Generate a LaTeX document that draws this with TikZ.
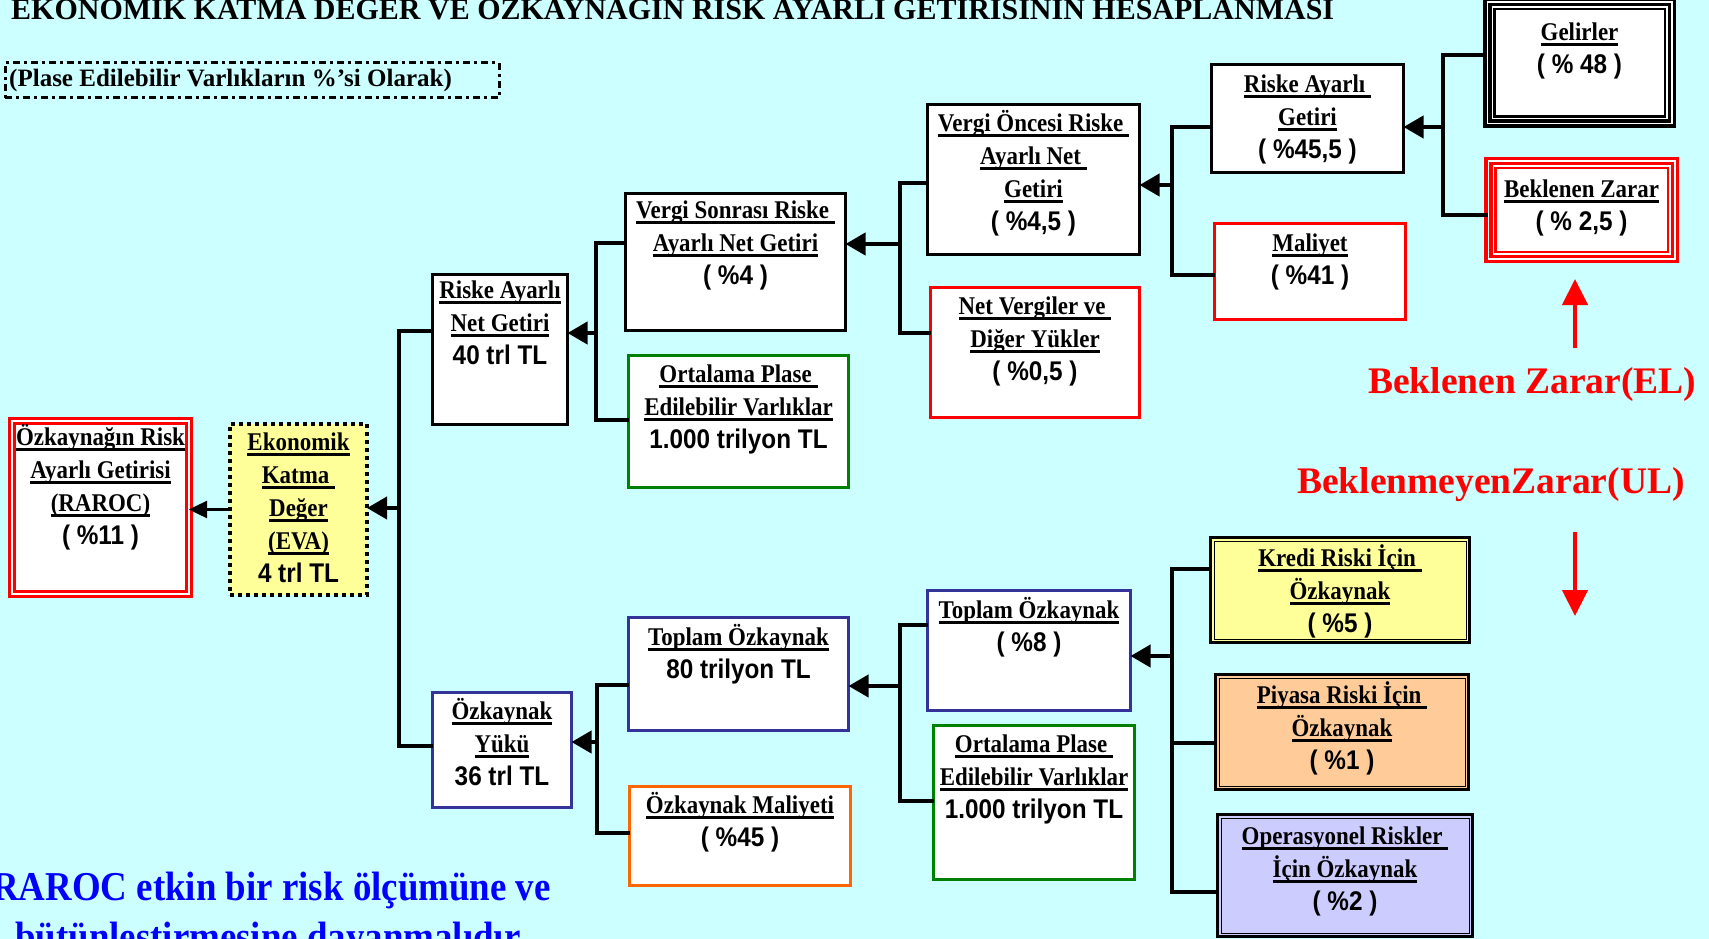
\documentclass[tikz,border=0pt]{standalone}
\usepackage{fontspec}
\setmainfont{Liberation Serif}
\newfontfamily\sercond{Liberation Serif}[FakeStretch=0.9]
\newfontfamily\sanscond{Liberation Sans}[FakeStretch=0.9]
\usetikzlibrary{arrows.meta}
\definecolor{bgc}{HTML}{CCFFFF}
\definecolor{bxred}{HTML}{FF0000}
\definecolor{bxgreen}{HTML}{008000}
\definecolor{bxblue}{HTML}{333399}
\definecolor{bxorange}{HTML}{FF6600}
\definecolor{fyel}{HTML}{FFFF99}
\definecolor{forange}{HTML}{FFCC99}
\definecolor{flav}{HTML}{CCCCFF}
\definecolor{txblue}{HTML}{0000FF}
\newsavebox\ulbox
\newcommand\myul[1]{\sbox\ulbox{#1}\rlap{\rule[-6pt]{\wd\ulbox}{3pt}}\usebox\ulbox}
\newcommand\fs{\rule{0pt}{23pt}}
\newcommand\numtxt[1]{{\sanscond\bfseries\fontsize{27}{33}\selectfont #1}}
\tikzset{
  bx/.style={draw=black, line width=3pt, fill=white, inner sep=0pt, outer sep=0pt, anchor=north west},
  tx/.style={anchor=north, inner sep=0pt, align=center, font=\sercond\bfseries\fontsize{25.5}{33}\selectfont},
  conn/.style={line width=4pt, black, line join=miter},
  arr/.style={line width=4pt, black, -{Triangle[length=20pt,width=22pt]}},
  arrs/.style={line width=2.5pt, black, -{Triangle[length=18pt,width=17pt]}},
  redarr/.style={line width=4.5pt, bxred, -{Triangle[length=26pt,width=25pt]}},
  innerline/.style={line width=1pt, black},
  bigtxt/.style={anchor=base west, inner sep=0pt},
}
\begin{document}
\begin{tikzpicture}[x=1pt, y=-1pt]
\useasboundingbox (0,0) rectangle (1709,939);
\clip (0,0) rectangle (1709,939);
\fill[bgc] (0,0) rectangle (1709,939);

% title and label
\node[bigtxt, font=\bfseries\fontsize{30}{36}\selectfont] (title) at (11,20)
  {EKONOMİK KATMA DEĞER VE ÖZKAYNAĞIN RİSK AYARLI GETİRİSİNİN HESAPLANMASI};
\node[draw=black, line width=3pt, dash pattern=on 7pt off 4pt on 3pt off 4pt,
  inner sep=0pt, minimum width=494pt, minimum height=35pt, anchor=north west] (plase) at (3.5,61.5) {};
\node[bigtxt, font=\bfseries\fontsize{25}{30}\selectfont] (plaset) at (9,87)
  {(Plase Edilebilir Varlıkların \%'si Olarak)};

% boxes
\node[bx, draw=bxred, double=white, double distance=2pt, minimum width=177pt, minimum height=173pt] (raroc) at (12,421) {};
\node[bx, fill=fyel, line width=4pt, dash pattern=on 4pt off 4pt, minimum width=137pt, minimum height=171pt] (eva) at (230,424) {};
\node[bx, minimum width=135pt, minimum height=150pt] (rang) at (432.5,274.5) {};
\node[bx, minimum width=220pt, minimum height=137pt] (vsrang) at (625.5,193.5) {};
\node[bx, draw=bxgreen, minimum width=220pt, minimum height=132pt] (opev1) at (628.5,355.5) {};
\node[bx, minimum width=212pt, minimum height=150pt] (vorang) at (927.5,104.5) {};
\node[bx, draw=bxred, minimum width=209pt, minimum height=130pt] (netverg) at (930.5,287.5) {};
\node[bx, minimum width=192pt, minimum height=108pt] (rag) at (1211.5,64.5) {};
\node[bx, draw=bxred, minimum width=191pt, minimum height=96pt] (maliyet) at (1214.5,223.5) {};
\node[bx, line width=3.5pt, double=white, double distance=1.5pt, minimum width=184.5pt, minimum height=121.5pt] (gelir) at (1487.25,2.25) {};
\draw[line width=2.5pt, black] ([shift={(7,7)}]gelir.north west) rectangle ([shift={(-7,-7)}]gelir.south east);
\node[bx, draw=bxred, line width=3.5pt, double=white, double distance=1.5pt, minimum width=186.5pt, minimum height=97.5pt] (bz) at (1488.25,161.25) {};
\draw[line width=2.5pt, bxred] ([shift={(7,7)}]bz.north west) rectangle ([shift={(-7,-7)}]bz.south east);
\node[bx, draw=bxblue, minimum width=139pt, minimum height=115pt] (ozyuk) at (432.5,692.5) {};
\node[bx, draw=bxblue, minimum width=220pt, minimum height=113pt] (top80) at (628.5,617.5) {};
\node[bx, draw=bxorange, minimum width=221pt, minimum height=99pt] (ozmal) at (629.5,786.5) {};
\node[bx, draw=bxblue, minimum width=203pt, minimum height=120pt] (top8) at (927.5,590.5) {};
\node[bx, draw=bxgreen, minimum width=201pt, minimum height=154pt] (opev2) at (933.5,725.5) {};
\node[bx, fill=fyel, minimum width=259pt, minimum height=105pt] (kredi) at (1210.5,537.5) {};
\draw[innerline] ([shift={(3.5,3.5)}]kredi.north west) rectangle ([shift={(-3.5,-3.5)}]kredi.south east);
\node[bx, fill=forange, minimum width=253pt, minimum height=115pt] (piyasa) at (1215.5,674.5) {};
\draw[innerline] ([shift={(3.5,3.5)}]piyasa.north west) rectangle ([shift={(-3.5,-3.5)}]piyasa.south east);
\node[bx, fill=flav, minimum width=255pt, minimum height=122pt] (oper) at (1217.5,814.5) {};
\draw[innerline] ([shift={(3.5,3.5)}]oper.north west) rectangle ([shift={(-3.5,-3.5)}]oper.south east);

% texts
\node[tx] (rarocT) at ([yshift=-1pt]raroc.north) {\fs\myul{Özkaynağın Risk}\\\myul{Ayarlı Getirisi}\\\myul{(RAROC)}\\\numtxt{( \%11 )}};
\node[tx] (evaT) at ([yshift=-3pt]eva.north) {\fs\myul{Ekonomik}\\\myul{Katma }\\\myul{Değer}\\\myul{(EVA)}\\\numtxt{4 trl TL}};
\node[tx] (rangT) at ([yshift=-0.5pt]rang.north) {\fs\myul{Riske Ayarlı}\\\myul{Net Getiri}\\\numtxt{40 trl TL}};
\node[tx] (vsrangT) at ([yshift=-1.5pt]vsrang.north) {\fs\myul{Vergi Sonrası Riske }\\\myul{Ayarlı Net Getiri}\\\numtxt{( \%4 )}};
\node[tx] (opev1T) at ([yshift=-3.5pt]opev1.north) {\fs\myul{Ortalama Plase }\\\myul{Edilebilir Varlıklar}\\\numtxt{1.000 trilyon TL}};
\node[tx] (vorangT) at ([yshift=-3.5pt]vorang.north) {\fs\myul{Vergi Öncesi Riske }\\\myul{Ayarlı Net }\\\myul{Getiri}\\\numtxt{( \%4,5 )}};
\node[tx] (netvergT) at ([yshift=-3.5pt]netverg.north) {\fs\myul{Net Vergiler ve }\\\myul{Diğer Yükler}\\\numtxt{( \%0,5 )}};
\node[tx] (ragT) at ([yshift=-4.5pt]rag.north) {\fs\myul{Riske Ayarlı }\\\myul{Getiri}\\\numtxt{( \%45,5 )}};
\node[tx] (maliyetT) at ([yshift=-4.5pt]maliyet.north) {\fs\myul{Maliyet}\\\numtxt{( \%41 )}};
\node[tx] (gelirT) at ([yshift=-14.75pt]gelir.north) {\fs\myul{Gelirler}\\\numtxt{( \% 48 )}};
\node[tx] (bzT) at ([yshift=-12.75pt]bz.north) {\fs\myul{Beklenen Zarar}\\\numtxt{( \% 2,5 )}};
\node[tx] (ozyukT) at ([yshift=-3.5pt]ozyuk.north) {\fs\myul{Özkaynak}\\\myul{Yükü}\\\numtxt{36 trl TL}};
\node[tx] (top80T) at ([yshift=-4.5pt]top80.north) {\fs\myul{Toplam Özkaynak}\\\numtxt{80 trilyon TL}};
\node[tx] (ozmalT) at ([yshift=-3.5pt]ozmal.north) {\fs\myul{Özkaynak Maliyeti}\\\numtxt{( \%45 )}};
\node[tx] (top8T) at ([yshift=-4.5pt]top8.north) {\fs\myul{Toplam Özkaynak}\\\numtxt{( \%8 )}};
\node[tx] (opev2T) at ([yshift=-3.5pt]opev2.north) {\fs\myul{Ortalama Plase }\\\myul{Edilebilir Varlıklar}\\\numtxt{1.000 trilyon TL}};
\node[tx] (krediT) at ([yshift=-5.5pt]kredi.north) {\fs\myul{Kredi Riski İçin }\\\myul{Özkaynak}\\\numtxt{( \%5 )}};
\node[tx] (piyasaT) at ([yshift=-5.5pt]piyasa.north) {\fs\myul{Piyasa Riski İçin }\\\myul{Özkaynak}\\\numtxt{( \%1 )}};
\node[tx] (operT) at ([yshift=-6.5pt]oper.north) {\fs\myul{Operasyonel Riskler }\\\myul{İçin Özkaynak}\\\numtxt{( \%2 )}};

% bracket coordinates
\coordinate (b1t) at (399,331); \coordinate (b1b) at (399,746); \coordinate (b1m) at (399,508);
\coordinate (b2t) at (596,243); \coordinate (b2b) at (596,420); \coordinate (b2m) at (596,333);
\coordinate (b3t) at (900,183); \coordinate (b3b) at (900,333); \coordinate (b3m) at (900,244);
\coordinate (b4t) at (1172,127); \coordinate (b4b) at (1172,275); \coordinate (b4m) at (1172,185);
\coordinate (b5t) at (1443,55); \coordinate (b5b) at (1443,215); \coordinate (b5m) at (1443,127);
\coordinate (b6t) at (597,685); \coordinate (b6b) at (597,833); \coordinate (b6m) at (597,742);
\coordinate (b7t) at (900,625); \coordinate (b7b) at (900,801); \coordinate (b7m) at (900,686);
\coordinate (b8t) at (1172,569); \coordinate (b8b) at (1172,892); \coordinate (b8c) at (1172,743); \coordinate (b8m) at (1172,656);

% brackets
\draw[conn] (rang.west |- b1t) -- (b1t) -- (b1b) -- (ozyuk.west |- b1b);
\draw[conn] (vsrang.west |- b2t) -- (b2t) -- (b2b) -- (opev1.west |- b2b);
\draw[conn] (vorang.west |- b3t) -- (b3t) -- (b3b) -- (netverg.west |- b3b);
\draw[conn] (rag.west |- b4t) -- (b4t) -- (b4b) -- (maliyet.west |- b4b);
\draw[conn] (gelir.west |- b5t) -- (b5t) -- (b5b) -- (bz.west |- b5b);
\draw[conn] (top80.west |- b6t) -- (b6t) -- (b6b) -- (ozmal.west |- b6b);
\draw[conn] (top8.west |- b7t) -- (b7t) -- (b7b) -- (opev2.west |- b7b);
\draw[conn] (kredi.west |- b8t) -- (b8t) -- (b8b) -- (oper.west |- b8b);
\draw[conn] (b8c) -- (piyasa.west |- b8c);

% arrows
\draw[arr] (b1m) -- (eva.east |- b1m);
\draw[arr] (b2m) -- (rang.east |- b2m);
\draw[arr] (b3m) -- (vsrang.east |- b3m);
\draw[arr] (b4m) -- (vorang.east |- b4m);
\draw[arr] (b5m) -- (rag.east |- b5m);
\draw[arr] (b6m) -- (ozyuk.east |- b6m);
\draw[arr] (b7m) -- (top80.east |- b7m);
\draw[arr] (b8m) -- (top8.east |- b8m);
\draw[arrs] (eva.west) -- (raroc.east |- eva.west);

% EL / UL
\node[bigtxt, text=bxred, font=\bfseries\fontsize{37.5}{40}\selectfont] (el) at (1368,393) {Beklenen Zarar(EL)};
\node[bigtxt, text=bxred, font=\bfseries\fontsize{37.5}{40}\selectfont] (ul) at (1297,493) {BeklenmeyenZarar(UL)};
\coordinate (elS) at (1575,348); \coordinate (elT) at (1575,279);
\coordinate (ulS) at (1575,532); \coordinate (ulT) at (1575,616);
\draw[redarr] (elS) -- (elT);
\draw[redarr] (ulS) -- (ulT);

% bottom text
\node[bigtxt, text=txblue, font=\sercond\bfseries\fontsize{41}{50}\selectfont] (bt1) at (-8,900) {RAROC etkin bir risk ölçümüne ve};
\node[bigtxt, text=txblue, font=\sercond\bfseries\fontsize{41}{50}\selectfont] (bt2) at (15,950) {bütünleştirmesine dayanmalıdır};
\end{tikzpicture}
\end{document}
